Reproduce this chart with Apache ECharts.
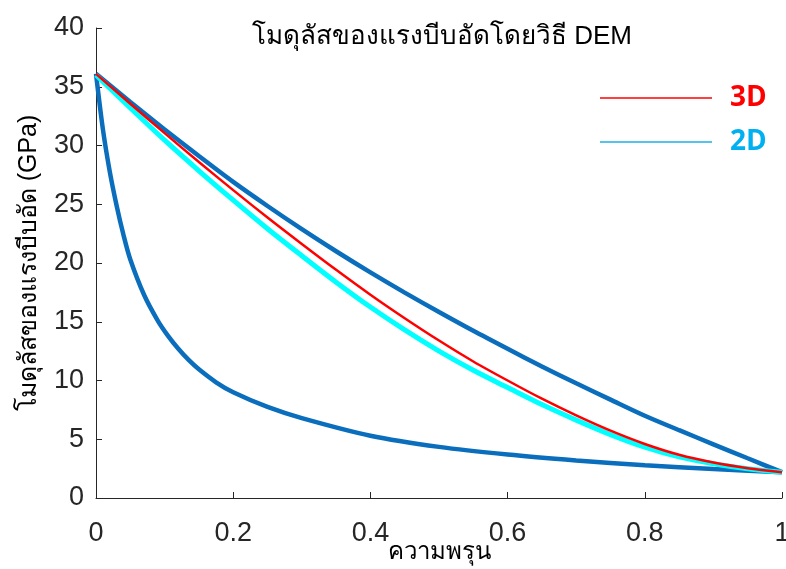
<!DOCTYPE html>
<html>
<head>
<meta charset="utf-8">
<script src="https://cdn.jsdelivr.net/npm/echarts@6/dist/echarts.min.js"></script>
<style>
  html, body { margin: 0; padding: 0; background: #fff; }
  #chart { width: 786px; height: 569px; }
</style>
</head>
<body>
<div id="chart"></div>
<script>
// porosity (x) values shared by the DEM curves and the upper bound
const porosity = [0, 0.05, 0.1, 0.15, 0.2, 0.25, 0.3, 0.35, 0.4, 0.45, 0.5,
                  0.55, 0.6, 0.65, 0.7, 0.75, 0.8, 0.85, 0.9, 0.95, 1];
const upperBound = [36.1, 33.70, 31.37, 29.10, 26.90, 24.85, 22.88, 21.00, 19.20, 17.48, 15.83,
                    14.23, 12.70, 11.20, 9.76, 8.37, 7.00, 5.77, 4.57, 3.38, 2.20];
const dem3D = [36.1, 33.55, 31.05, 28.60, 26.20, 23.87, 21.62, 19.42, 17.30, 15.30, 13.40,
               11.62, 10.00, 8.45, 7.03, 5.73, 4.60, 3.68, 3.02, 2.54, 2.20];
const dem2D = [36.0, 33.20, 30.45, 27.85, 25.35, 22.92, 20.62, 18.37, 16.25, 14.30, 12.50,
               10.87, 9.40, 7.95, 6.63, 5.40, 4.33, 3.50, 2.92, 2.49, 2.20];
// lower bound needs denser points near zero porosity
const lowerX = [0, 0.01, 0.02, 0.03, 0.04, 0.05, 0.07, 0.09, 0.105, 0.12, 0.135, 0.15, 0.175, 0.2,
                0.25, 0.3, 0.4, 0.5, 0.6, 0.7, 0.8, 0.9, 1];
const lowerBound = [36.1, 31.4, 27.8, 24.9, 22.4, 20.3, 17.3, 15.1, 13.8, 12.7, 11.75, 10.95, 9.85, 9.0,
                    7.75, 6.8, 5.3, 4.35, 3.7, 3.2, 2.78, 2.47, 2.2];

function pairs(xs, ys) {
    let list = [];
    for (let i = 0; i < xs.length; i++) {
        list.push([xs[i], ys[i]]);
    }
    return list;
}

const axisColor = '#262626';
const font = "'Liberation Sans', 'Noto Sans', 'DejaVu Sans', sans-serif";

let chart = echarts.init(document.getElementById('chart'));
chart.setOption({
    backgroundColor: '#ffffff',
    animation: false,
    title: {
        text: 'โมดุลัสของแรงบีบอัดโดยวิธี DEM',
        left: 437,
        textAlign: 'center',
        top: 19,
        textStyle: {
            fontFamily: font,
            fontSize: 26,
            fontWeight: 'normal',
            color: '#000'
        }
    },
    legend: {
        orient: 'vertical',
        left: 595,
        top: 79,
        itemWidth: 112,
        itemHeight: 1.5,
        itemGap: 16,
        icon: 'rect',
        selectedMode: false,
        data: [
            {
                name: '3D',
                itemStyle: {color: '#FF0000'},
                textStyle: {color: '#FF0000'}
            },
            {
                name: '2D',
                itemStyle: {color: '#1EAFE6'},
                textStyle: {color: '#00B0F0'}
            }
        ],
        textStyle: {
            fontFamily: "'Open Sans', 'Noto Sans', sans-serif",
            fontSize: 28,
            fontWeight: 'bold',
            lineHeight: 26,
            padding: [0, 0, 0, 13]
        }
    },
    grid: {
        left: 96,
        right: 4,
        top: 28,
        bottom: 71,
        outerBoundsMode: 'none'
    },
    xAxis: {
        type: 'value',
        min: 0,
        max: 1,
        interval: 0.2,
        name: 'ความพรุน',
        nameLocation: 'middle',
        nameGap: 42,
        nameMoveOverlap: false,
        nameTextStyle: {fontFamily: font, fontSize: 24, color: '#000'},
        axisLine: {show: true, lineStyle: {color: axisColor, width: 1}},
        axisTick: {show: true, inside: true, length: 6, lineStyle: {color: axisColor}},
        axisLabel: {fontFamily: font, fontSize: 27, color: axisColor, margin: 22},
        splitLine: {show: false}
    },
    yAxis: {
        type: 'value',
        min: 0,
        max: 40,
        interval: 5,
        name: 'โมดุลัสของแรงบีบอัด (GPa)',
        nameLocation: 'middle',
        nameGap: 54,
        nameMoveOverlap: false,
        nameTextStyle: {fontFamily: font, fontSize: 25, color: '#000'},
        axisLine: {show: true, lineStyle: {color: axisColor, width: 1}},
        axisTick: {show: true, inside: true, length: 6, lineStyle: {color: axisColor}},
        axisLabel: {fontFamily: font, fontSize: 27, color: axisColor, margin: 12},
        splitLine: {show: false}
    },
    series: [
        {
            name: 'upper',
            type: 'line',
            data: pairs(porosity, upperBound),
            smooth: 0.3,
            symbol: 'none',
            lineStyle: {color: '#0A6EBD', width: 4.5},
            z: 2
        },
        {
            name: 'lower',
            type: 'line',
            data: pairs(lowerX, lowerBound),
            smooth: 0.3,
            symbol: 'none',
            lineStyle: {color: '#0A6EBD', width: 4.5},
            z: 2
        },
        {
            name: '2D',
            type: 'line',
            data: pairs(porosity, dem2D),
            smooth: 0.3,
            symbol: 'none',
            lineStyle: {color: '#00FFFF', width: 5},
            z: 3
        },
        {
            name: '3D',
            type: 'line',
            data: pairs(porosity, dem3D),
            smooth: 0.3,
            symbol: 'none',
            lineStyle: {color: '#FF0000', width: 2.5},
            z: 4
        }
    ]
});
</script>
</body>
</html>
